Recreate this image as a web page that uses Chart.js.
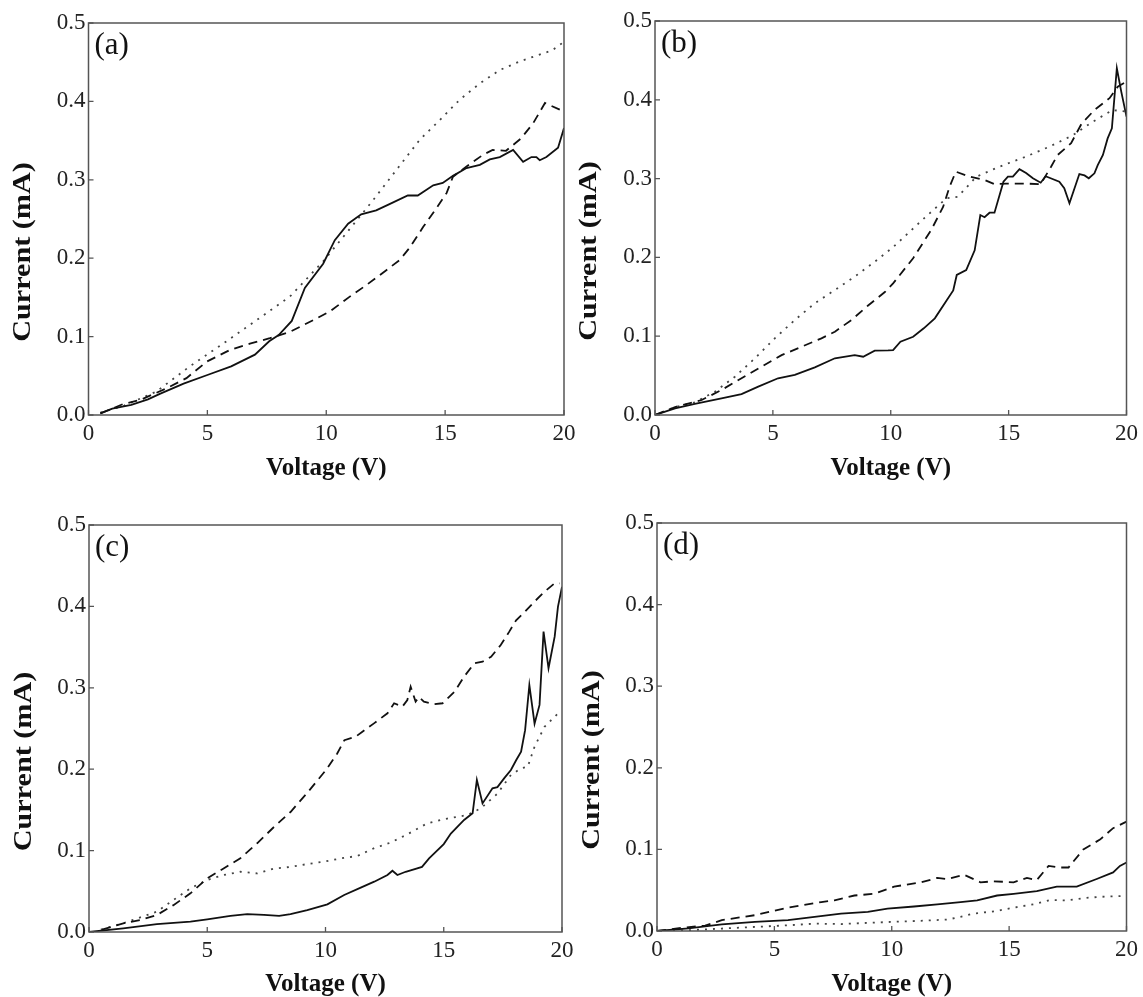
<!DOCTYPE html>
<html><head><meta charset="utf-8">
<script src="https://cdn.jsdelivr.net/npm/chart.js@4"></script>
<style>
html,body{margin:0;padding:0;background:#fff;}
body{width:1143px;height:997px;position:relative;overflow:hidden;}
canvas{position:absolute;}
</style></head><body>
<canvas id="pa"></canvas><canvas id="pb"></canvas><canvas id="pc"></canvas><canvas id="pd"></canvas>
<script>
// ---- axis ticks ----
const xTickValues = [0, 5, 10, 15, 20];
const yTickValues = [0, 0.1, 0.2, 0.3, 0.4, 0.5];
const xTitle = 'Voltage (V)';
const yTitle = 'Current (mA)';
const panelLabels = ['(a)', '(b)', '(c)', '(d)'];

// ---- panel (a) ----
const aSolidV = [0.5,1,1.8,2.5,3,4,5,6,7,7.6,8,8.55,9.1,9.87,10.36,10.92,11.47,12.1,12.66,13.43,13.85,14.5,14.9,15.33,15.9,16.46,16.88,17.3,17.86,18.28,18.63,18.84,18.98,19.26,19.75,20];
const aSolidI = [0.002,0.008,0.013,0.02,0.027,0.04,0.051,0.062,0.077,0.094,0.102,0.12,0.162,0.193,0.223,0.244,0.256,0.261,0.269,0.28,0.28,0.293,0.296,0.305,0.315,0.319,0.326,0.329,0.338,0.323,0.329,0.329,0.325,0.329,0.341,0.366];
const aDashV = [0.5,1.46,2.16,3.28,4.12,4.97,5.95,6.79,7.63,8.47,9.45,10.15,10.99,11.7,12.54,13.1,13.5,14.08,14.64,15.06,15.33,15.9,16.6,17.0,17.56,18.2,18.7,19.2,20];
const aDashI = [0.002,0.014,0.019,0.034,0.047,0.068,0.083,0.091,0.098,0.106,0.121,0.132,0.151,0.166,0.185,0.198,0.213,0.24,0.264,0.283,0.304,0.317,0.332,0.338,0.337,0.353,0.372,0.398,0.387];
const aDotV = [0.5,1.5,2.86,4.26,5.66,7.07,8.47,9.87,11.06,11.97,12.95,13.93,14.77,15.61,16.46,17.3,18.14,19,19.5,20];
const aDotI = [0.003,0.012,0.03,0.062,0.091,0.121,0.151,0.196,0.24,0.274,0.3125,0.351,0.376,0.402,0.423,0.44,0.451,0.46,0.465,0.476];

// ---- panel (b) ----
const bSolidV = [0,0.85,1.69,2.82,3.67,4.38,5.22,5.93,6.78,7.63,8.47,8.83,9.32,9.89,10.1,10.41,10.95,11.4,11.87,12.34,12.65,12.8,13.2,13.56,13.8,13.98,14.19,14.4,14.78,14.97,15.18,15.46,15.74,16.03,16.36,16.57,17.15,17.36,17.58,18.0,18.22,18.4,18.64,18.78,19.0,19.2,19.38,19.59,19.78,20];
const bSolidI = [0,0.0085,0.014,0.021,0.0266,0.036,0.0466,0.051,0.0605,0.072,0.076,0.074,0.0816,0.082,0.0824,0.093,0.0993,0.11,0.1227,0.144,0.158,0.1777,0.184,0.209,0.2538,0.251,0.2567,0.2567,0.296,0.3024,0.3024,0.312,0.307,0.3004,0.2948,0.303,0.296,0.2877,0.2687,0.3058,0.304,0.3004,0.3067,0.317,0.33,0.351,0.3638,0.44,0.41,0.3786];
const bDashV = [0,0.85,1.98,2.82,3.67,4.52,5.37,6.22,7.06,7.63,8.33,9.04,9.75,10.1,10.95,11.72,12.22,12.5,12.76,13.35,14.0,14.4,14.9,15.74,16.36,16.8,17.08,17.65,18.1,18.64,19.28,19.63,20];
const bDashI = [0,0.01,0.019,0.0317,0.0466,0.0613,0.076,0.0867,0.0973,0.1057,0.1205,0.139,0.156,0.167,0.199,0.235,0.264,0.29,0.3088,0.3024,0.298,0.293,0.2936,0.2936,0.293,0.315,0.33,0.345,0.37,0.387,0.402,0.4167,0.423];
const bDotV = [0,0.85,1.69,2.54,3.39,4.24,5.08,5.93,6.78,7.63,8.47,9.32,10.1,11.5,12.36,12.85,13.63,14.6,15.74,16.73,17.72,18.56,19.41,20];
const bDotI = [0,0.01,0.016,0.0296,0.0486,0.072,0.0973,0.1205,0.1418,0.1586,0.1755,0.1945,0.213,0.252,0.275,0.277,0.3024,0.315,0.328,0.3405,0.355,0.372,0.387,0.385];

// ---- panel (c) ----
const cSolidV = [0,1.45,2.87,4.29,5.0,5.98,6.69,7.4,8.04,8.52,9.23,10.08,10.79,11.49,12.06,12.62,12.83,13.04,13.39,13.6,14.08,14.38,15.0,15.3,15.86,16.22,16.4,16.64,17.06,17.27,17.56,17.84,18.06,18.27,18.44,18.62,18.84,19.05,19.22,19.43,19.69,19.83,20];
const cSolidI = [0,0.0045,0.0098,0.0127,0.0156,0.0197,0.022,0.021,0.0197,0.022,0.027,0.034,0.0455,0.0545,0.0618,0.07,0.0753,0.07,0.074,0.0758,0.08,0.0905,0.108,0.121,0.1376,0.1458,0.1867,0.158,0.1765,0.178,0.189,0.199,0.211,0.2215,0.248,0.3034,0.256,0.279,0.369,0.324,0.3628,0.3998,0.424];
const cDashV = [0.55,1.45,2.16,2.87,3.57,4.29,5.0,5.69,6.4,7.11,7.82,8.53,9.23,10.02,10.49,10.8,11.27,11.56,12.05,12.62,12.9,13.25,13.46,13.6,13.81,13.95,14.16,14.6,14.95,15.45,15.86,16.29,16.64,17.0,17.41,17.77,18.06,18.41,18.84,19.26,19.69,19.9];
const cDashI = [0.003,0.0107,0.0147,0.0209,0.033,0.0475,0.066,0.078,0.0905,0.109,0.129,0.1477,0.171,0.199,0.219,0.2357,0.2398,0.246,0.2563,0.2687,0.281,0.2768,0.285,0.3014,0.283,0.2887,0.283,0.28,0.281,0.295,0.3136,0.33,0.332,0.338,0.3526,0.369,0.383,0.393,0.406,0.418,0.4284,0.4284];
const cDotV = [0.5,1.45,2.87,3.57,4.29,5.0,5.69,6.4,7.11,7.82,8.53,9.23,9.94,10.65,11.35,12.06,12.77,13.46,14.3,15.15,16.0,16.57,17.27,17.84,18.27,18.55,18.84,19.26,19.69,19.9];
const cDotI = [0.003,0.0107,0.025,0.0393,0.0537,0.0639,0.07,0.074,0.072,0.078,0.08,0.0835,0.0864,0.0905,0.0934,0.103,0.11,0.12,0.1335,0.1394,0.1437,0.152,0.17,0.193,0.201,0.203,0.2277,0.252,0.2645,0.2706];

// ---- panel (d) ----
const dSolidV = [0,1.34,2.76,4.17,5.58,6.71,7.84,8.98,9.82,10.95,11.94,12.93,13.64,14.49,15.19,16.18,17.03,17.88,18.73,19.43,19.72,20];
const dSolidI = [0,0.0032,0.008,0.0113,0.0133,0.0173,0.0214,0.0234,0.0274,0.03,0.0327,0.0355,0.0375,0.0435,0.0456,0.0488,0.0544,0.0544,0.0637,0.0718,0.0798,0.0839];
const dDashV = [0,1.2,2.05,2.76,4.17,5.58,7.0,7.56,8.41,9.26,10.1,11.24,11.94,12.37,13.07,13.78,14.35,15.19,15.76,16.18,16.68,17.17,17.53,18.16,18.87,19.43,20];
const dDashI = [0,0.0044,0.0065,0.0133,0.0194,0.0286,0.0355,0.0375,0.0435,0.0456,0.0544,0.0597,0.065,0.0637,0.069,0.0597,0.0609,0.0597,0.065,0.0625,0.0798,0.0778,0.0778,0.1,0.112,0.126,0.134];
const dDotV = [0,1.34,2.76,4.17,5.58,6.71,7.84,8.98,10.1,11.24,12.37,12.93,13.5,14.35,15.19,16.04,16.75,17.45,18.3,19.15,20];
const dDotI = [0,0.001,0.003,0.005,0.007,0.009,0.0085,0.01,0.0113,0.0125,0.014,0.0173,0.0214,0.024,0.0286,0.0327,0.038,0.0375,0.0407,0.0423,0.043];

// ---- layout (canvas box and plot-area insets, px) ----
const layouts = [
  {id:'pa', left:0,   top:0,   w:600, h:490, plotL:88.5, plotT:23, plotR:564, plotB:415, xtPad:9,  ytX:23},
  {id:'pb', left:570, top:0,   w:573, h:490, plotL:85,   plotT:21, plotR:558, plotB:415, xtPad:9,  ytX:19},
  {id:'pc', left:0,   top:480, w:600, h:517, plotL:89,   plotT:45, plotR:562, plotB:452, xtPad:0,  ytX:24},
  {id:'pd', left:570, top:480, w:573, h:517, plotL:87,   plotT:43, plotR:559, plotB:451, xtPad:0,  ytX:22}
];

const SERIF = '"Liberation Serif", "Times New Roman", serif';

const framePlugin = {
  id: 'frame',
  afterDatasetsDraw(chart, args, opts) {
    const {ctx, chartArea: a, scales: {x, y}} = chart;
    ctx.save();
    ctx.strokeStyle = '#555';
    ctx.lineWidth = 1.5;
    ctx.strokeRect(a.left, a.top, a.right - a.left, a.bottom - a.top);
    ctx.lineWidth = 1.3;
    ctx.beginPath();
    x.ticks.forEach(t => { const px = x.getPixelForValue(t.value); ctx.moveTo(px, a.bottom); ctx.lineTo(px, a.bottom - 5); });
    y.ticks.forEach(t => { const py = y.getPixelForValue(t.value); ctx.moveTo(a.left, py); ctx.lineTo(a.left + 5, py); });
    ctx.stroke();
    ctx.fillStyle = '#111';
    ctx.font = '31px ' + SERIF;
    ctx.textBaseline = 'middle';
    ctx.textAlign = 'left';
    ctx.fillText(opts.label, a.left + 6, a.top + 23);
    ctx.translate(opts.ytX, (a.top + a.bottom) / 2 + 33);
    ctx.rotate(-Math.PI / 2);
    ctx.scale(1.16, 1);
    ctx.font = 'bold 26px ' + SERIF;
    ctx.textAlign = 'center';
    ctx.fillText(opts.yTitle, 0, 0);
    ctx.restore();
  }
};

const panels = [
  [aSolidV, aSolidI, aDashV, aDashI, aDotV, aDotI],
  [bSolidV, bSolidI, bDashV, bDashI, bDotV, bDotI],
  [cSolidV, cSolidI, cDashV, cDashI, cDotV, cDotI],
  [dSolidV, dSolidI, dDashV, dDashI, dDotV, dDotI]
];

function pts(vs, is) { return vs.map((v, i) => ({x: v, y: is[i]})); }

panels.forEach((p, k) => {
  const L = layouts[k];
  const cv = document.getElementById(L.id);
  cv.width = L.w; cv.height = L.h;
  cv.style.left = L.left + 'px'; cv.style.top = L.top + 'px';
  cv.style.width = L.w + 'px'; cv.style.height = L.h + 'px';
  new Chart(cv, {
    type: 'line',
    data: {
      datasets: [
        {label: 'solid', data: pts(p[0], p[1]), borderColor: '#111', borderWidth: 1.8},
        {label: 'dashed', data: pts(p[2], p[3]), borderColor: '#111', borderWidth: 1.8, borderDash: [9, 6]},
        {label: 'dotted', data: pts(p[4], p[5]), borderColor: '#444', borderWidth: 1.8, borderDash: [2, 6]}
      ]
    },
    options: {
      responsive: false,
      animation: false,
      devicePixelRatio: 1,
      elements: {point: {radius: 0}, line: {tension: 0, fill: false}},
      layout: {padding: {left: 0, top: L.plotT, right: L.w - L.plotR, bottom: 0}},
      plugins: {
        legend: {display: false},
        tooltip: {enabled: false},
        frame: {label: panelLabels[k], yTitle: yTitle, ytX: L.ytX}
      },
      scales: {
        x: {
          type: 'linear', min: 0, max: 20,
          afterBuildTicks: s => { s.ticks = xTickValues.map(v => ({value: v})); },
          afterFit: s => { s.height = L.h - L.plotB; },
          grid: {display: false, drawTicks: false},
          border: {display: false},
          ticks: {font: {family: SERIF, size: 23}, color: '#222', padding: 5, maxRotation: 0},
          title: {display: true, text: xTitle, font: {family: SERIF, size: 25, weight: 'bold', lineHeight: 1}, color: '#111', padding: {top: 0, bottom: L.xtPad}}
        },
        y: {
          type: 'linear', min: 0, max: 0.5,
          afterBuildTicks: s => { s.ticks = yTickValues.map(v => ({value: v})); },
          afterFit: s => { s.width = L.plotL; },
          grid: {display: false, drawTicks: false},
          border: {display: false},
          ticks: {font: {family: SERIF, size: 23}, color: '#222', padding: 3, callback: v => v.toFixed(1)}
        }
      }
    },
    plugins: [framePlugin]
  });
});
</script>
</body></html>
